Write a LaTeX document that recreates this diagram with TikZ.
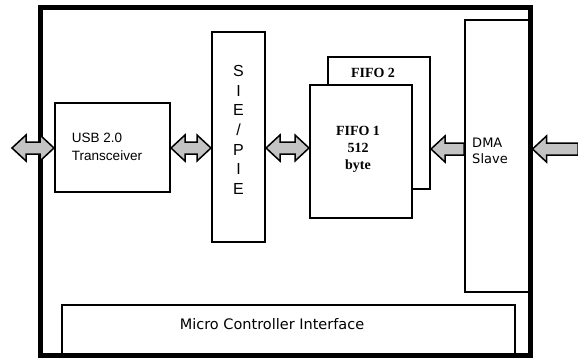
\documentclass[tikz,border=0pt]{standalone}
\usepackage{fontspec}
\setmainfont{Liberation Sans}
\newfontfamily\dejavu{DejaVu Sans}
\newfontfamily\timesface{Liberation Serif}
\usetikzlibrary{calc}
\definecolor{arrowgray}{RGB}{195,195,195}

\begin{document}
\begin{tikzpicture}[
  x=1pt, y=-1pt,
  box/.style={rectangle, draw, line width=2pt, inner sep=0pt},
  lbl/.style={align=left, inner sep=0pt},
  fat/.style={draw, line width=1.5pt, fill=arrowgray, line join=miter}
]
  \useasboundingbox (0,0) rectangle (578,359);
  \coordinate (lvl) at (0,148);
  \coordinate (lin) at (12,148);
  \coordinate (rin) at (578,149);

  \node[box, minimum width=115pt, minimum height=89pt] (usb) at (112.5,147.5) {};
  \node[lbl, font=\fontsize{13.5}{18}\selectfont] (usbtxt) at (107,147) {USB 2.0\\Transceiver};
  \node[box, minimum width=53pt, minimum height=210pt] (sie) at (238.5,137) {};
  \node[align=center, inner sep=0pt, font=\fontsize{16}{19.7}\selectfont] (sietxt) at (238.5,130) {S\\I\\E\\/\\P\\I\\E};
  \node[box, minimum width=102pt, minimum height=132pt] (fifo2) at (379,123) {};
  \node[lbl, font=\timesface\fontsize{14}{16}\selectfont\bfseries] (f2txt) at (373,73) {FIFO 2};
  \node[box, fill=white, minimum width=102pt, minimum height=133pt] (fifo1) at (361,151.5) {};
  \node[align=center, inner sep=0pt, font=\timesface\fontsize{14}{17}\selectfont\bfseries] (f1txt) at (358,149) {FIFO 1\\512\\byte};
  \node[box, minimum width=64pt, minimum height=272pt] (dma) at (497,156) {};
  \node[lbl, font=\dejavu\fontsize{13}{16}\selectfont] (dmatxt) at (490,151) {DMA\\Slave};
  \node[box, minimum width=453pt, minimum height=50pt] (mci) at (288.5,330) {};
  \node[lbl, font=\dejavu\fontsize{14.5}{17}\selectfont] (mcitxt) at (272,324) {Micro Controller Interface};
  % chip outline
  \node[box, line width=5pt, minimum width=490pt, minimum height=347.5pt] (chip) at (285,181.25) {};

  % fat data arrows
  \foreach \a/\b in {lin/usb.west, usb.east/sie.west, sie.east/fifo1.west}
    \filldraw[fat] let \p1=(\a |- lvl), \p2=(\b |- lvl) in
      (\x1,\y1) -- (\x1+14pt,\y1+13pt) -- (\x1+14pt,\y1+6pt) -- (\x2-14pt,\y1+6pt)
      -- (\x2-14pt,\y1+13pt) -- (\x2,\y1) -- (\x2-14pt,\y1-13pt) -- (\x2-14pt,\y1-6pt)
      -- (\x1+14pt,\y1-6pt) -- (\x1+14pt,\y1-13pt) -- cycle;
  \foreach \a/\b in {dma.west/fifo2.east, rin/chip.east}
    \filldraw[fat] let \p1=(\a |- rin), \p2=(\b |- rin) in
      (\x1,\y1+6pt) -- (\x2+14pt,\y1+6pt) -- (\x2+14pt,\y1+13pt) -- (\x2,\y1)
      -- (\x2+14pt,\y1-13pt) -- (\x2+14pt,\y1-6pt) -- (\x1,\y1-6pt) -- cycle;
\end{tikzpicture}
\end{document}
